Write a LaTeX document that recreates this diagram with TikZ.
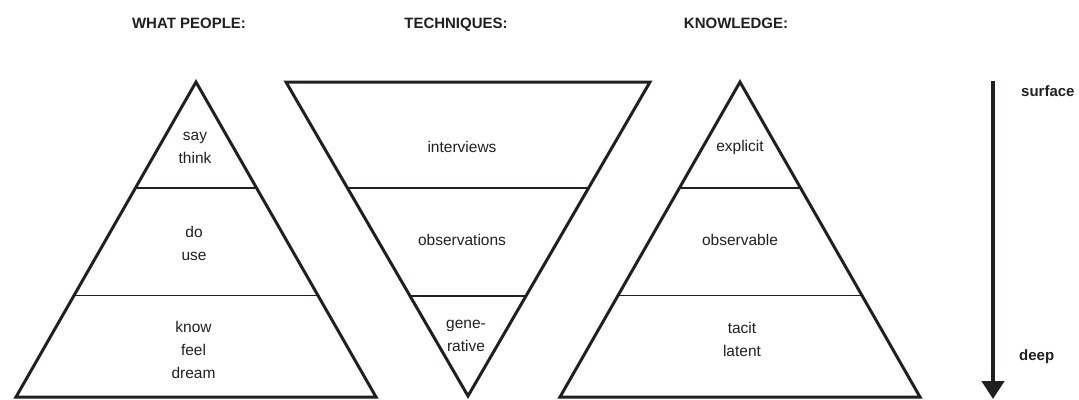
\documentclass[tikz,border=0pt]{standalone}
\usepackage{fontspec}
\setmainfont{Liberation Sans}
\usetikzlibrary{arrows.meta,calc}
\definecolor{ink}{RGB}{35,31,32}
\begin{document}
\begin{tikzpicture}[x=1pt,y=-1pt,
  tri/.style={draw=ink,line width=3pt,line join=miter},
  band/.style={draw=ink,line width=1.1pt},
  lbl/.style={font=\fontsize{15.5}{23}\selectfont,text=ink,align=center,inner sep=0pt},
  hdr/.style={font=\fontsize{15}{18}\selectfont\bfseries,text=ink,inner sep=0pt,anchor=base},
  side/.style={font=\fontsize{15}{18}\selectfont\bfseries,text=ink,inner sep=0pt,anchor=base west},
  depth arrow/.style={draw=ink,line width=4.5pt,-{Triangle[width=22pt,length=18pt]}}]
\useasboundingbox (0,0) rectangle (1079,399);

% column headings
\node[hdr] (hpeople) at (189,28) {WHAT PEOPLE:};
\node[hdr] (htech)   at (456,28) {TECHNIQUES:};
\node[hdr] (hknow)   at (736,28) {KNOWLEDGE:};

% left pyramid: what people say / do / know
\coordinate (p1a) at (196,82);
\coordinate (p1l) at (16,397);
\coordinate (p1r) at (376,397);
\draw[tri] (p1a) -- (p1l) -- (p1r) -- cycle;
\draw[band] ($(p1a)!0.3365!(p1l)$) -- ($(p1a)!0.3365!(p1r)$);
\draw[band] ($(p1a)!0.679!(p1l)$) -- ($(p1a)!0.679!(p1r)$);

% inverted pyramid: techniques
\coordinate (p2l) at (286,82);
\coordinate (p2r) at (650,82);
\coordinate (p2a) at (468,396);
\draw[tri] (p2l) -- (p2r) -- (p2a) -- cycle;
\draw[band] ($(p2a)!0.6624!(p2l)$) -- ($(p2a)!0.6624!(p2r)$);
\draw[band] ($(p2a)!0.3185!(p2l)$) -- ($(p2a)!0.3185!(p2r)$);

% right pyramid: knowledge
\coordinate (p3a) at (740,82);
\coordinate (p3l) at (560,397);
\coordinate (p3r) at (920,397);
\draw[tri] (p3a) -- (p3l) -- (p3r) -- cycle;
\draw[band] ($(p3a)!0.3365!(p3l)$) -- ($(p3a)!0.3365!(p3r)$);
\draw[band] ($(p3a)!0.679!(p3l)$) -- ($(p3a)!0.679!(p3r)$);

% band labels
\node[lbl] (say)   at (195,148)   {say\\think};
\node[lbl] (do)    at (194,243)   {do\\use};
\node[lbl] (know)  at (193.5,349.5) {know\\feel\\dream};
\node[lbl] (intv)  at (462,147)   {interviews};
\node[lbl] (obs)   at (462,240)   {observations};
\node[lbl] (gen)   at (466,336)   {gene-\\rative};
\node[lbl] (expl)  at (740,147)   {explicit};
\node[lbl] (obsv)  at (740,240)   {observable};
\node[lbl] (tacit) at (742,339)   {tacit\\latent};

% surface-to-deep axis
\coordinate (dtop) at (993,81);
\coordinate (dbot) at (993,399);
\draw[depth arrow] (dtop) -- (dbot);
\node[side] (surf) at (1021,96)  {surface};
\node[side] (deep) at (1019,360) {deep};
\end{tikzpicture}
\end{document}
